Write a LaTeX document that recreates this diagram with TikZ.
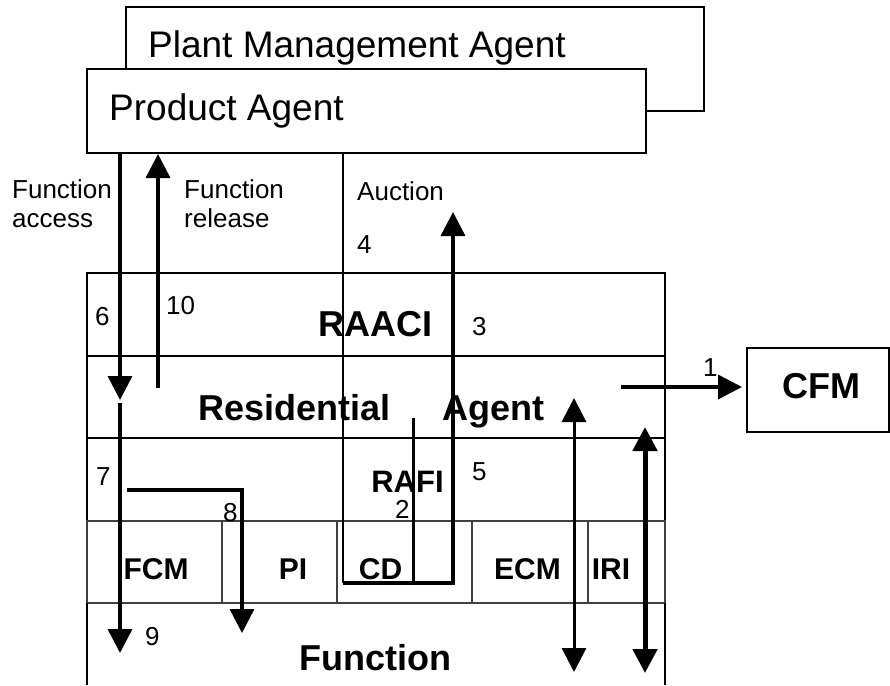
\documentclass[tikz,border=0pt]{standalone}
\usepackage{fontspec}
\setmainfont{Liberation Sans}
\usetikzlibrary{arrows.meta}
\begin{document}
\begin{tikzpicture}[x=1pt,y=-1pt,
  box/.style={draw=black, line width=2pt, fill=white, inner sep=0pt},
  modbox/.style={draw=black!75, line width=1.5pt, fill=white, inner sep=0pt},
  txt/.style={inner sep=0pt, anchor=base west, font=\fontsize{37}{44}\selectfont},
  small/.style={inner sep=0pt, anchor=base west, font=\fontsize{26}{31}\selectfont},
  bold/.style={inner sep=0pt, anchor=base, font=\fontsize{36}{43}\selectfont\bfseries},
  modlbl/.style={inner sep=0pt, anchor=base, font=\fontsize{30}{36}\selectfont\bfseries},
  arr/.style={line width=3.5pt, -{Triangle[length=24pt,width=24pt]}},
  darr/.style={{Triangle[length=24pt,width=24pt]}-{Triangle[length=24pt,width=24pt]}},
  wire/.style={line width=3.5pt}]
\useasboundingbox (0,0) rectangle (890,685);

% agent boxes
\node[box, minimum width=578pt, minimum height=104pt] (pma) at (415,59) {};
\node[box, minimum width=559pt, minimum height=84pt] (pa) at (366.5,111) {};
\node[txt] at (148,57) {Plant Management Agent};
\node[txt] at (109,120) {Product Agent};

% residential agent stack
\node[box, minimum width=578pt, minimum height=83pt] (raaci) at (376,314.5) {};
\node[box, minimum width=578pt, minimum height=82pt] (ra) at (376,397) {};
\node[box, minimum width=578pt, minimum height=83pt] (rafi) at (376,479.5) {};
\node[modbox, minimum width=135pt, minimum height=82pt] (fcm) at (154.5,562) {};
\node[modbox, minimum width=115pt, minimum height=82pt] (pi) at (279.5,562) {};
\node[modbox, minimum width=135pt, minimum height=82pt] (cd) at (404.5,562) {};
\node[modbox, minimum width=116pt, minimum height=82pt] (ecm) at (530,562) {};
\node[modbox, minimum width=77pt, minimum height=82pt] (iri) at (626.5,562) {};
\node[inner sep=0pt, minimum width=578pt, minimum height=82pt] (fn) at (376,644) {};
\draw[line width=2pt] (fn.north west) -- (fn.south west);
\draw[line width=2pt] (fn.north east) -- (fn.south east);

\node[box, minimum width=142pt, minimum height=84pt] (cfm) at (818,390) {};

% box labels
\node[bold] at (375.5,336) {RAACI};
\node[bold] at (371.5,420) {Residential\hspace{52pt}Agent};
\node[modlbl, font=\fontsize{31}{37}\selectfont\bfseries] at (407.5,492) {RAFI};
\node[modlbl] at (156,579) {FCM};
\node[modlbl] at (293,579) {PI};
\node[modlbl] at (380.5,579) {CD};
\node[modlbl] at (527.5,579) {ECM};
\node[modlbl] at (611,579) {IRI};
\node[bold] at (375.5,670) {Function};
\node[bold] at (821.5,398) {CFM};

% message labels
\node[small] at (12,198) {Function};
\node[small] at (12,227) {access};
\node[small] at (184,198) {Function};
\node[small] at (184,227) {release};
\node[small] at (357,200) {Auction};

% step numbers
\node[small] at (703,376) {1};
\node[small] at (395,518) {2};
\node[small] at (472,335) {3};
\node[small] at (357,253) {4};
\node[small] at (472,480) {5};
\node[small] at (95,325) {6};
\node[small] at (96,485) {7};
\node[small] at (223,521) {8};
\node[small] at (145,645) {9};
\node[small] at (166,314) {10};

% function access (6) and onward to the function layer (7, 9)
\coordinate (t6) at (120,400);
\draw[arr] (pa.south -| t6) -- (t6);
\coordinate (s9) at (120,403);
\coordinate (t9) at (120,653);
\draw[arr] (s9) -- (t9);
\coordinate (s7) at (127,490);
\coordinate (t8) at (242,633);
\draw[arr] (s7) -- (s7 -| t8) -- (t8);

% function release (10)
\coordinate (s10) at (158,388);
\draw[arr] (s10) -- (pa.south -| s10);

% auction path (4, 3) through the CD module
\coordinate (c4) at (343,583);
\coordinate (t3) at (453,212);
\draw[line width=2.2pt] (pa.south -| c4) -- (c4);
\draw[arr] (c4) -- (c4 -| t3) -- (t3);
\coordinate (s2) at (413,418);
\draw[wire, line width=3pt] (s2) -- (s2 |- c4);

% request to CFM (1)
\coordinate (s1) at (621,387);
\draw[arr, shorten >=4pt] (s1) -- (s1 -| cfm.west);

% links between residential agent and function layer
\coordinate (e1) at (574,398);
\coordinate (e2) at (574,672);
\draw[darr, line width=3pt] (e1) -- (e2);
\coordinate (i1) at (645,427);
\coordinate (i2) at (645,673);
\draw[darr, line width=5pt] (i1) -- (i2);
\end{tikzpicture}
\end{document}
